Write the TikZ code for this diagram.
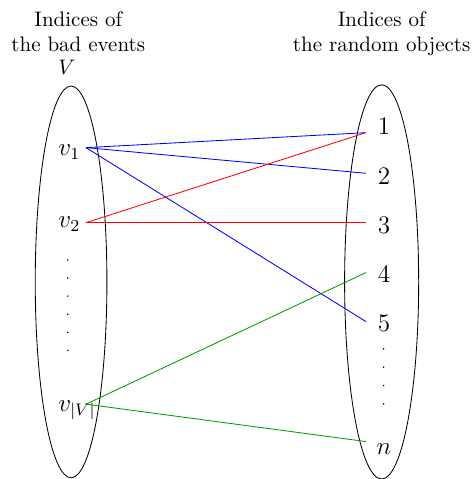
\documentclass[tikz,border=0pt]{standalone}
\usepackage{amsmath,amssymb}
\usepackage{tikz}
\usetikzlibrary{arrows.meta, positioning}

\begin{document}
\begin{tikzpicture}[
		bad/.style={font=\large, inner sep=0pt, anchor=base west},
		obj/.style={font=\large, inner sep=0pt, anchor=base},
		title/.style={align=center, anchor=north}]
		
		\useasboundingbox (-1.19, 4.72) rectangle (6.75, -3.30);
		
		\draw (0,0) ellipse (0.6 and 3.28);
		\draw (5.2,0) ellipse (0.62 and 3.3);
		
		\node[title] (tbad) at (0.12, 4.646) {Indices of\\the bad events};
		\node[title] (tobj) at (5.2, 4.646) {Indices of\\the random objects};
		\node[anchor=base] (V) at (-0.07, 3.48) {$V$};
		
		\node[bad] (v1) at (-0.22, 2.109) {$v_1$};
		\node[bad] (v2) at (-0.22, 0.904) {$v_2$};
		\node[bad] (vV) at (-0.22, -2.176) {$v_{|V|}$};
		
		\node[obj] (o1l) at (5.238, 2.460) {$1$};
		\node[obj] (o2l) at (5.238, 1.632) {$2$};
		\node[obj] (o3l) at (5.238, 0.803) {$3$};
		\node[obj] (o4l) at (5.238, -0.017) {$4$};
		\node[obj] (o5l) at (5.238, -0.837) {$5$};
		\node[obj] (onl) at (5.238, -2.895) {$n$};
		
		\foreach \i in {0,...,5}
			\fill (-0.055, 0.368-0.303*\i) circle (0.4pt);
		\foreach \i in {0,...,3}
			\fill (5.233, -1.121-0.307*\i) circle (0.4pt);
		
		\coordinate (b1) at (0.25, 2.248);
		\coordinate (b2) at (0.25, 0.992);
		\coordinate (bV) at (0.25, -2.047);
		\coordinate (o1) at (4.937, 2.499);
		\coordinate (o2) at (4.937, 1.819);
		\coordinate (o3) at (4.937, 0.992);
		\coordinate (o4) at (4.937, 0.156);
		\coordinate (o5) at (4.937, -0.664);
		\coordinate (on) at (4.937, -2.673);
		
		\draw[blue] (b1) -- (o1);
		\draw[blue] (b1) -- (o2);
		\draw[blue] (b1) -- (o5);
		\draw[red] (b2) -- (o1);
		\draw[red] (b2) -- (o3);
		\draw[green!60!black] (bV) -- (o4);
		\draw[green!60!black] (bV) -- (on);
	\end{tikzpicture}
\end{document}
